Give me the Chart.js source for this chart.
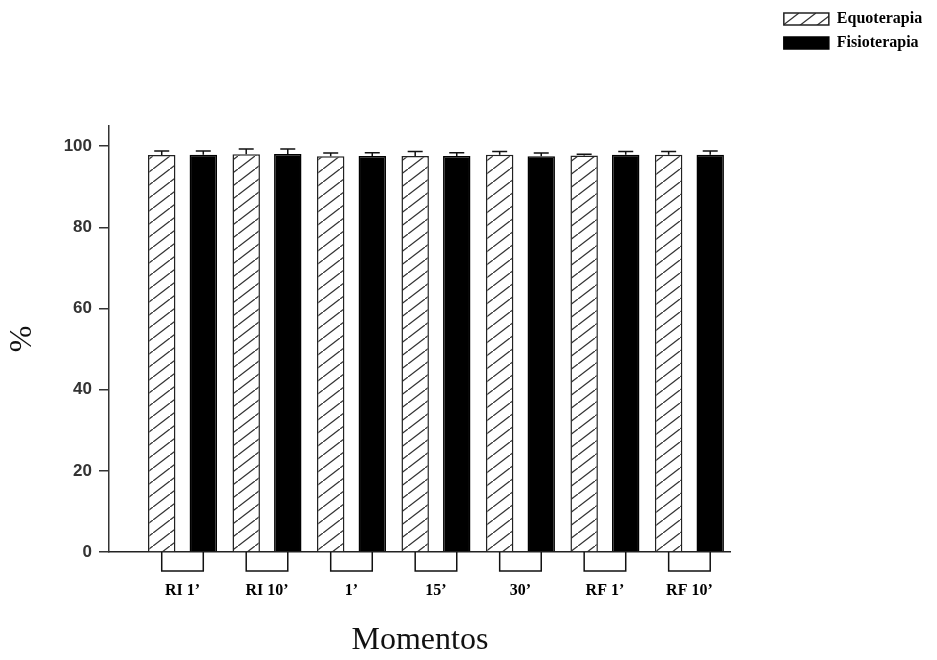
<!DOCTYPE html>
<html>
<head>
<meta charset="utf-8">
<script src="https://cdn.jsdelivr.net/npm/chart.js@4.4.1/dist/chart.umd.min.js"></script>
<style>
    body { margin: 0; background: #fff; }
    #wrap { width: 937px; height: 660px; }
</style>
</head>
<body>
<div id="wrap"><canvas id="chart"></canvas></div>
<script>
const categories = ["RI 1’", "RI 10’", "1’", "15’", "30’", "RF 1’", "RF 10’"];
const equoterapia = [97.8, 98.0, 97.5, 97.6, 97.9, 97.7, 97.9];
const fisioterapia = [97.9, 98.1, 97.6, 97.6, 97.5, 97.9, 97.9];
const equoterapiaErr = [1.0, 1.3, 0.8, 1.1, 0.8, 0.3, 0.8];
const fisioterapiaErr = [0.9, 1.2, 0.8, 0.8, 0.8, 0.8, 0.9];
const yTicks = [0, 20, 40, 60, 80, 100];

function makeHatch() {
    const tile = document.createElement('canvas');
    tile.width = 17;
    tile.height = 13;
    const c = tile.getContext('2d');
    c.fillStyle = '#fff';
    c.fillRect(0, 0, 17, 13);
    c.strokeStyle = '#333';
    c.lineWidth = 1.3;
    for (let k = -1; k <= 1; k++) {
        c.beginPath();
        c.moveTo(k * 17, 13 + k * 13);
        c.lineTo(17 + k * 17, k * 13);
        c.stroke();
    }
    return c.createPattern(tile, 'repeat');
}

const ctx = document.getElementById('chart').getContext('2d');
const hatch = makeHatch();

// error bars: stem + top cap
const errorBars = {
    id: 'errorBars',
    afterDatasetsDraw(chart) {
        const c = chart.ctx;
        const yScale = chart.scales.y;
        const errs = [equoterapiaErr, fisioterapiaErr];
        c.save();
        c.strokeStyle = '#111';
        c.lineWidth = 1.5;
        chart.data.datasets.forEach((ds, i) => {
            chart.getDatasetMeta(i).data.forEach((bar, j) => {
                const top = yScale.getPixelForValue(ds.data[j].y + errs[i][j]);
                c.beginPath();
                c.moveTo(bar.x, bar.y);
                c.lineTo(bar.x, top);
                c.moveTo(bar.x - 7.5, top);
                c.lineTo(bar.x + 7.5, top);
                c.stroke();
            });
        });
        c.restore();
    }
};

// brackets joining the two bars of each moment, under the axis
const brackets = {
    id: 'brackets',
    afterDraw(chart) {
        const c = chart.ctx;
        const base = chart.chartArea.bottom;
        const a = chart.getDatasetMeta(0).data;
        const b = chart.getDatasetMeta(1).data;
        c.save();
        c.strokeStyle = '#111';
        c.lineWidth = 1.5;
        for (let j = 0; j < a.length; j++) {
            c.beginPath();
            c.moveTo(a[j].x, base);
            c.lineTo(a[j].x, base + 19);
            c.lineTo(b[j].x, base + 19);
            c.lineTo(b[j].x, base);
            c.stroke();
        }
        c.restore();
    }
};

new Chart(ctx, {
    type: 'bar',
    data: {
        datasets: [
            {
                label: 'Equoterapia',
                data: equoterapia.map((v, i) => ({x: i, y: v})),
                backgroundColor: hatch,
                borderColor: '#222',
                borderWidth: 1.5
            },
            {
                label: 'Fisioterapia',
                data: fisioterapia.map((v, i) => ({x: i, y: v})),
                backgroundColor: '#000',
                borderColor: '#000',
                borderWidth: 1.5
            }
        ]
    },
    options: {
        responsive: true,
        maintainAspectRatio: false,
        devicePixelRatio: 1,
        animation: false,
        categoryPercentage: 0.984,
        barPercentage: 0.66,
        layout: {padding: {top: 3, right: 6, left: 0, bottom: 0}},
        plugins: {
            title: {
                display: true,
                text: '',
                font: {size: 12},
                padding: {top: 108.5, bottom: 0}
            },
            legend: {
                position: 'right',
                align: 'start',
                labels: {
                    boxWidth: 45,
                    boxHeight: 12,
                    padding: 8,
                    color: '#000',
                    font: {family: 'Liberation Serif', size: 16, weight: 'bold'}
                }
            },
            tooltip: {enabled: false}
        },
        scales: {
            x: {
                type: 'linear',
                offset: false,
                min: -0.87,
                max: 6.49,
                afterBuildTicks: scale => {
                    scale.ticks = categories.map((c, i) => ({value: i}));
                },
                afterFit: scale => { scale.height = 108; },
                ticks: {
                    callback: v => categories[v],
                    autoSkip: false,
                    maxRotation: 0,
                    padding: 29,
                    color: '#000',
                    font: {family: 'Liberation Serif', size: 16, weight: 'bold'}
                },
                grid: {display: false, drawTicks: false, offset: false},
                border: {color: '#222', width: 1.5},
                title: {
                    display: true,
                    text: 'Momentos',
                    color: '#111',
                    font: {family: 'Liberation Serif', size: 32},
                    padding: {top: 0, bottom: 0}
                }
            },
            y: {
                min: 0,
                max: 105,
                afterBuildTicks: scale => {
                    scale.ticks = yTicks.map(v => ({value: v}));
                },
                ticks: {
                    padding: 7,
                    color: '#333',
                    font: {family: 'Liberation Sans', size: 17, weight: 'bold'}
                },
                grid: {drawOnChartArea: false, tickLength: 10, color: '#333', lineWidth: 1.5},
                border: {color: '#333', width: 1.5},
                title: {
                    display: true,
                    text: '%',
                    color: '#111',
                    font: {family: 'Liberation Serif', size: 32},
                    padding: {top: 3, bottom: 0}
                },
                afterFit: scale => { scale.width = 109; }
            },
            y2: {
                position: 'right',
                display: true,
                grid: {display: false, drawTicks: false},
                border: {display: false},
                ticks: {display: false},
                afterFit: scale => { scale.width = 45; }
            }
        }
    },
    plugins: [errorBars, brackets]
});
</script>
</body>
</html>
